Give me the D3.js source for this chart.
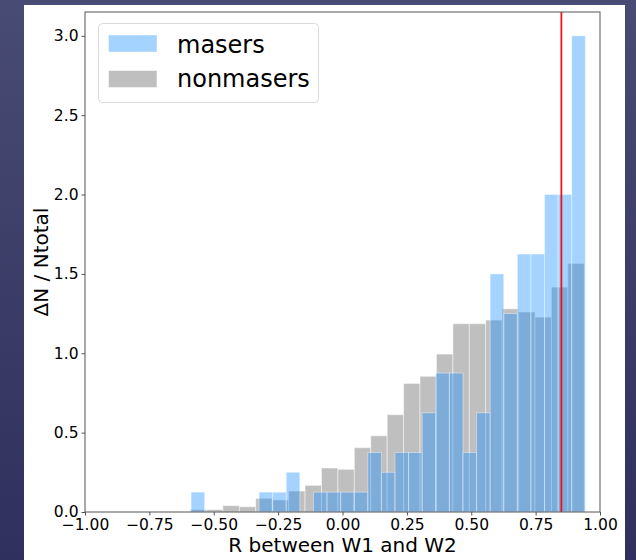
<!DOCTYPE html>
<html lang="en">
<head>
<meta charset="UTF-8">
<title>R between W1 and W2</title>
<style>
  html, body { margin: 0; padding: 0; }
  body { width: 636px; height: 560px; overflow: hidden; }
  text { font-family: "DejaVu Sans", sans-serif; fill: #000; }
</style>
</head>
<body>
<script src="https://cdn.jsdelivr.net/npm/d3@7"></script>
<script>
    // Histogram densities (one value per bin)
    const maserDensity = [
        0.125, 0, 0, 0, 0, 0.125, 0.125, 0.25, 0, 0.125,
        0.125, 0.125, 0.125, 0.375, 0.25, 0.375, 0.375, 0.625, 0.875, 0.875,
        0.375, 0.625, 1.5, 1.25, 1.625, 1.625, 2.0, 2.0, 3.0
    ];
    const nonmaserDensity = [
        0.015, 0.015, 0.04, 0.033, 0.086, 0.076, 0.132, 0.168, 0.277, 0.269,
        0.405, 0.48, 0.613, 0.81, 0.855, 0.995, 1.186, 1.186, 1.209, 1.28,
        1.26, 1.228, 1.417, 1.566
    ];
    // first and last bin edge of each histogram
    const maserRange = [-0.588, 0.943];
    const nonmaserRange = [-0.592, 0.939];
    const cutoff = 0.85;
    const xTicks = [-1, -0.75, -0.5, -0.25, 0, 0.25, 0.5, 0.75, 1];
    const yTicks = [0, 0.5, 1, 1.5, 2, 2.5, 3];
    const legendLabels = ["masers", "nonmasers"];

    const W = 636, H = 560,
        plot = {left: 85, right: 600, top: 12, bottom: 512};

    const svg = d3.select("body").append("svg")
        .attr("width", W)
        .attr("height", H);

    // dark slide background + white figure
    const grad = svg.append("defs").append("linearGradient")
        .attr("id", "bg").attr("x1", 0).attr("y1", 0).attr("x2", 0).attr("y2", 1);
    grad.append("stop").attr("offset", "0%").attr("stop-color", "#484b73");
    grad.append("stop").attr("offset", "100%").attr("stop-color", "#2f305d");
    svg.append("rect").attr("width", W).attr("height", H).attr("fill", "url(#bg)");
    svg.append("rect")
        .attr("x", 24).attr("y", 5)
        .attr("width", 601).attr("height", H - 5)
        .attr("fill", "#fff");

    const x = d3.scaleLinear().domain([-1, 1]).range([plot.left, plot.right]);
    const y = d3.scaleLinear().domain([0, 3.15]).range([plot.bottom, plot.top]);

    function binsOf(values, range) {
        const edge = d3.scaleLinear().domain([0, values.length]).range(range);
        return values.map(function(v, i) {
            return {x0: edge(i), x1: edge(i + 1), v: v};
        });
    }

    function drawHist(bins, color, alpha) {
        svg.append("g").selectAll("rect")
            .data(bins.filter(function(d) { return d.v > 0; }))
            .enter().append("rect")
            .attr("x", function(d) { return x(d.x0); })
            .attr("y", function(d) { return y(d.v); })
            .attr("width", function(d) { return x(d.x1) - x(d.x0); })
            .attr("height", function(d) { return y(0) - y(d.v); })
            .attr("fill", color)
            .attr("fill-opacity", alpha)
            .attr("stroke", "#fff")
            .attr("stroke-opacity", alpha)
            .attr("stroke-width", 1);
    }

    drawHist(binsOf(nonmaserDensity, nonmaserRange), "#808080", 0.5);
    drawHist(binsOf(maserDensity, maserRange), "#1e90ff", 0.4);

    // cutoff line
    svg.append("line")
        .attr("x1", x(cutoff)).attr("x2", x(cutoff))
        .attr("y1", plot.top).attr("y2", plot.bottom)
        .attr("stroke", "#f0141a")
        .attr("stroke-width", 1.8);

    // axes
    const xAxis = svg.append("g")
        .attr("transform", `translate(0,${plot.bottom})`)
        .call(d3.axisBottom(x).tickValues(xTicks).tickFormat(d3.format(".2f"))
            .tickSize(3.5).tickPadding(3.5).tickSizeOuter(0));
    const yAxis = svg.append("g")
        .attr("transform", `translate(${plot.left},0)`)
        .call(d3.axisLeft(y).tickValues(yTicks).tickFormat(d3.format(".1f"))
            .tickSize(3.5).tickPadding(3).tickSizeOuter(0));
    [xAxis, yAxis].forEach(function(a) {
        a.select(".domain").remove();
        a.selectAll(".tick line").attr("stroke", "#555");
        a.selectAll("text")
            .style("font-family", "DejaVu Sans")
            .style("font-size", "15.5px")
            .attr("fill", "#111");
    });

    // spines
    svg.append("rect")
        .attr("x", plot.left).attr("y", plot.top)
        .attr("width", plot.right - plot.left)
        .attr("height", plot.bottom - plot.top)
        .attr("fill", "none")
        .attr("stroke", "#555")
        .attr("stroke-width", 1);

    // axis labels
    svg.append("text")
        .attr("x", (plot.left + plot.right) / 2)
        .attr("y", 552)
        .attr("text-anchor", "middle")
        .style("font-size", "20px")
        .text("R between W1 and W2");
    svg.append("text")
        .attr("transform", `translate(48,${(plot.top + plot.bottom) / 2}) rotate(-90)`)
        .attr("text-anchor", "middle")
        .style("font-size", "20px")
        .text("ΔN / Ntotal");

    // legend
    const legend = svg.append("g");
    legend.append("rect")
        .attr("x", 98.5).attr("y", 23.5)
        .attr("width", 220).attr("height", 79)
        .attr("rx", 4)
        .attr("fill", "#fff").attr("fill-opacity", 0.8)
        .attr("stroke", "#d9d9d9");
    const legendColors = [["#1e90ff", 0.4], ["#808080", 0.5]];
    legendLabels.forEach(function(label, i) {
        legend.append("rect")
            .attr("x", 108.5).attr("y", 35 + i * 35.5)
            .attr("width", 48.5).attr("height", 17)
            .attr("fill", legendColors[i][0])
            .attr("fill-opacity", legendColors[i][1])
            .attr("stroke", "#fff")
            .attr("stroke-opacity", legendColors[i][1]);
        legend.append("text")
            .attr("x", 177).attr("y", 52.5 + i * 34.5)
            .style("font-size", "24px")
            .text(label);
    });
</script>
</body>
</html>
